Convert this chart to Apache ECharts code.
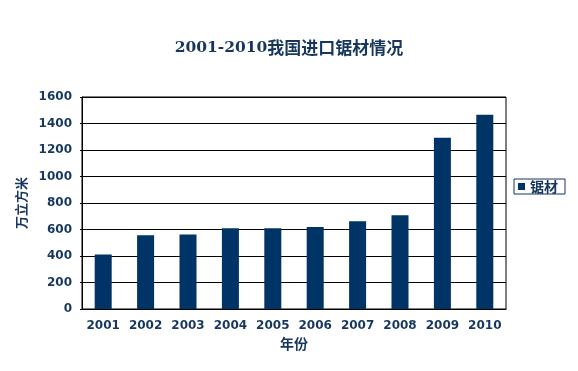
<!DOCTYPE html>
<html>
<head>
<meta charset="utf-8">
<script src="https://cdn.jsdelivr.net/npm/echarts@6/dist/echarts.min.js"></script>
<style>html,body{margin:0;padding:0;background:#fff}#c{width:578px;height:371px}</style>
</head>
<body>
<div id="c"></div>
<script>
var titleYears = '2001-2010';
var titleText = '我国进口锯材情况';
var years = ['2001','2002','2003','2004','2005','2006','2007','2008','2009','2010'];
var sawnWood = [412, 556, 563, 610, 610, 618, 663, 708, 1292, 1466];
var seriesName = '锯材';
var yTicks = [0, 200, 400, 600, 800, 1000, 1200, 1400, 1600];
var xName = '年份';
var yName = '万立方米';

var navy = '#17375e';
var barColor = '#003366';
var chart = echarts.init(document.getElementById('c'));
chart.setOption({
  backgroundColor: '#ffffff',
  animation: false,
  title: {
    text: '{a|' + titleYears + '}{b|' + titleText + '}',
    left: 'center',
    top: 32,
    textStyle: {
      rich: {
        a: { fontFamily: 'DejaVu Serif', fontWeight: 'bold', fontSize: 15.5, color: navy, lineHeight: 22, verticalAlign: 'middle' },
        b: { fontFamily: 'Noto Sans CJK SC', fontWeight: 'bold', fontSize: 17, color: navy, lineHeight: 22, verticalAlign: 'middle' }
      }
    }
  },
  legend: {
    orient: 'vertical',
    left: 514,
    top: 179,
    padding: [0, 5, 0, 4],
    borderColor: navy,
    borderWidth: 1,
    itemWidth: 7,
    itemHeight: 7,
    itemGap: 0,
    icon: 'rect',
    textStyle: { fontFamily: 'Noto Sans CJK SC', fontWeight: 'bold', fontSize: 14, color: navy, lineHeight: 15, width: 30 },
    data: [seriesName]
  },
  grid: {
    left: 82, right: 72, top: 97, bottom: 62,
    show: true, borderColor: '#000', borderWidth: 1
  },
  xAxis: {
    type: 'category',
    data: years,
    name: xName,
    nameLocation: 'middle',
    nameGap: 21,
    nameTextStyle: { fontFamily: 'Noto Sans CJK SC', fontWeight: 'bold', fontSize: 14, color: navy },
    axisLine: { lineStyle: { color: '#000', width: 1 } },
    axisTick: { inside: true, length: 4, lineStyle: { color: '#000' } },
    axisLabel: { interval: 0, margin: 11, fontFamily: 'DejaVu Sans', fontWeight: 'bold', fontSize: 12, color: navy }
  },
  yAxis: {
    type: 'value',
    min: yTicks[0],
    max: yTicks[yTicks.length - 1],
    interval: 200,
    name: yName,
    nameLocation: 'middle',
    nameGap: 49,
    nameRotate: 90,
    nameTextStyle: { fontFamily: 'Noto Sans CJK SC', fontWeight: 'bold', fontSize: 13, color: navy },
    axisLine: { show: true, lineStyle: { color: '#000', width: 1 } },
    axisTick: { show: true, length: 2, lineStyle: { color: '#000' } },
    splitLine: { lineStyle: { color: '#000', width: 1 } },
    axisLabel: { margin: 10, fontFamily: 'DejaVu Sans', fontWeight: 'bold', fontSize: 12, color: navy,
      formatter: function (v) { return String(v); } }
  },
  series: [{
    name: seriesName,
    type: 'bar',
    data: sawnWood,
    barWidth: 17,
    itemStyle: { color: barColor }
  }]
});
</script>
</body>
</html>
